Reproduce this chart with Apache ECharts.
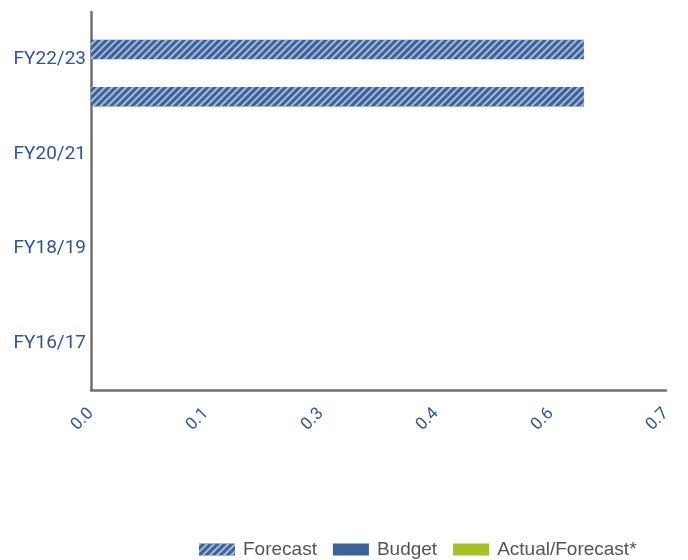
<!DOCTYPE html>
<html>
<head>
<meta charset="utf-8">
<script src="https://cdn.jsdelivr.net/npm/echarts@6/dist/echarts.min.js"></script>
<style>
  html, body { margin: 0; padding: 0; background: #fff; }
  #chart { width: 688px; height: 560px; }
</style>
</head>
<body>
<div id="chart"></div>
<script>
// fiscal years, bottom to top; only every other one gets a label
const years = ["FY16/17", "FY17/18", "FY18/19", "FY19/20", "FY20/21", "FY21/22", "FY22/23", "FY23/24"];
const forecast = [null, null, null, null, null, null, 0.6, 0.6];
const budget = [null, null, null, null, null, null, null, null];
const actual = [null, null, null, null, null, null, null, null];
const xTicks = [0, 0.7, 0.14]; // min, max, step

const blue = "#3d6199";
const labelBlue = "#2f5597";

let myChart = echarts.init(document.getElementById("chart"));

let option = {
  animation: false,
  grid: { left: 91, top: 12, right: 22, bottom: 170, containLabel: false },
  legend: {
    left: 194,
    top: 535,
    itemWidth: 36,
    itemHeight: 12,
    itemGap: 16,
    icon: "rect",
    textStyle: { color: "#555", fontSize: 19, fontFamily: "Liberation Sans, Arial", padding: [0, 0, 0, 3] },
    data: ["Forecast", "Budget", "Actual/Forecast*"]
  },
  xAxis: {
    type: "value",
    min: xTicks[0],
    max: xTicks[1],
    interval: xTicks[2],
    splitLine: { show: false },
    axisTick: { show: false },
    axisLine: { show: true, lineStyle: { color: "#6f6f6f", width: 2.5 } },
    axisLabel: {
      rotate: 45,
      margin: 21,
      color: labelBlue,
      fontSize: 17,
      fontFamily: "Roboto",
      formatter: v => v.toFixed(1)
    }
  },
  yAxis: {
    type: "category",
    data: years,
    axisTick: { show: false },
    axisLine: { show: true, lineStyle: { color: "#6f6f6f", width: 2.5 } },
    axisLabel: {
      interval: 1,
      margin: 5,
      color: labelBlue,
      fontSize: 19,
      fontFamily: "Roboto",
      // labels sit on the band edge, not the middle
      verticalAlign: "bottom",
      lineHeight: 47
    }
  },
  series: [
    {
      name: "Budget",
      type: "bar",
      stack: "other",
      barWidth: 19.5,
      barGap: "43%",
      itemStyle: { color: blue },
      data: budget
    },
    {
      name: "Actual/Forecast*",
      type: "bar",
      stack: "other",
      barWidth: 19.5,
      barGap: "43%",
      itemStyle: { color: "#a5c126" },
      data: actual
    },
    {
      name: "Forecast",
      type: "bar",
      barWidth: 19.5,
      barGap: "43%",
      itemStyle: {
        color: blue,
        decal: {
          symbol: "rect",
          color: "rgba(200,215,240,0.75)",
          dashArrayX: [1, 0],
          dashArrayY: [1.5, 2.5],
          rotation: -Math.PI / 4
        }
      },
      data: forecast
    }
  ]
};

option && myChart.setOption(option);
</script>
</body>
</html>
